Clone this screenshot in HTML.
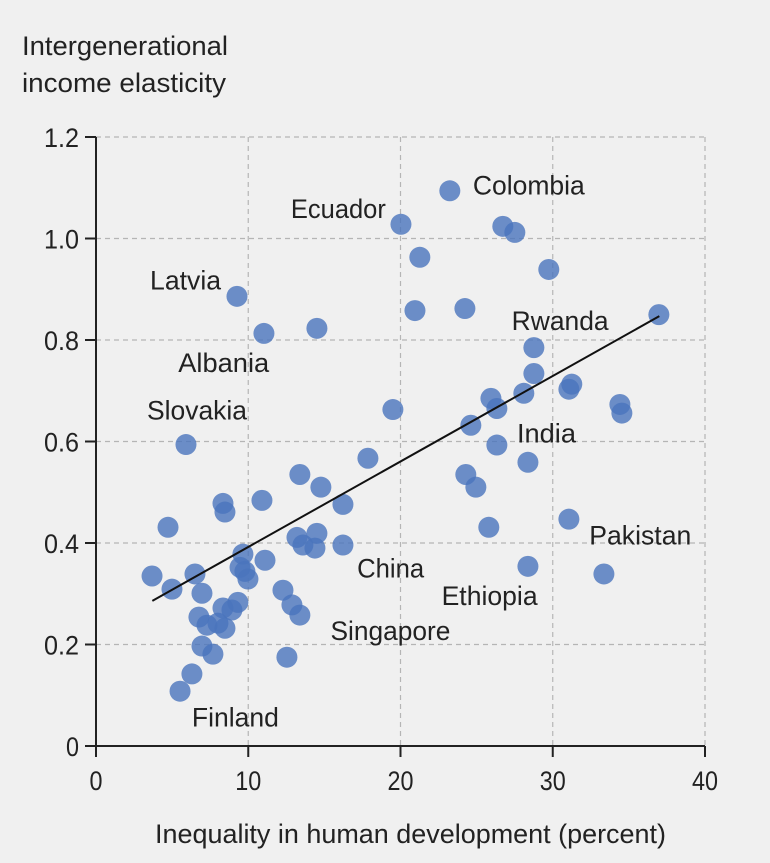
<!DOCTYPE html>
<html><head><meta charset="utf-8"><style>
html,body{margin:0;padding:0;background:#f0f0f0;}
svg{display:block;font-family:"Liberation Sans Narrow","Liberation Sans",sans-serif;}
</style></head><body>
<svg id="chart" width="770" height="863" viewBox="0 0 770 863">
<rect width="770" height="863" fill="#f0f0f0"/>
<text x="22" y="55" font-size="27" fill="#222" textLength="206" lengthAdjust="spacingAndGlyphs">Intergenerational</text>
<text x="22" y="92" font-size="27" fill="#222" textLength="204" lengthAdjust="spacingAndGlyphs">income elasticity</text>
<text x="155" y="843" font-size="27" fill="#222" textLength="511" lengthAdjust="spacingAndGlyphs">Inequality in human development (percent)</text>
<g id="grid"></g><g id="axes"></g><g id="points"></g><g id="fit"></g><g id="labels"></g>
</svg>
<script>
const xVals=[3.68,4.73,4.99,5.91,5.52,6.30,6.50,6.96,6.76,6.96,7.68,7.29,8.01,8.34,8.93,9.32,8.47,8.34,8.47,9.65,9.46,9.78,9.98,9.26,10.90,11.03,11.10,12.28,12.87,13.39,12.54,13.20,13.59,14.38,14.51,13.39,14.77,14.51,16.22,16.22,17.86,19.50,20.03,21.27,20.95,23.24,24.23,24.62,24.29,24.95,25.80,25.94,26.33,26.33,26.72,27.51,28.10,28.37,28.37,28.76,28.76,29.74,31.06,31.25,31.06,34.41,34.54,33.36,36.97];
const yVals=[0.335,0.431,0.309,0.594,0.108,0.142,0.339,0.301,0.254,0.197,0.181,0.238,0.242,0.272,0.268,0.283,0.232,0.478,0.461,0.378,0.352,0.344,0.329,0.886,0.484,0.813,0.366,0.307,0.278,0.258,0.175,0.411,0.396,0.390,0.419,0.535,0.510,0.823,0.476,0.396,0.567,0.663,1.028,0.963,0.858,1.094,0.862,0.632,0.535,0.510,0.431,0.685,0.665,0.593,1.024,1.012,0.695,0.559,0.354,0.734,0.785,0.939,0.703,0.713,0.447,0.673,0.656,0.339,0.850];
const fitX=[3.7,37];
const fitY=[0.286,0.847];
const xTicks=[0,10,20,30,40];
const yTicks=[0,0.2,0.4,0.6,0.8,1.0,1.2];
const yTickLabels=["0","0.2","0.4","0.6","0.8","1.0","1.2"];
const labelNames=["Colombia","Ecuador","Latvia","Rwanda","Albania","Slovakia","India","Pakistan","China","Ethiopia","Singapore","Finland"];
const labelX=[24.75,12.8,3.55,27.3,5.4,3.35,27.65,32.4,17.15,22.7,15.4,6.3];
const labelY=[1.087,1.04,0.9,0.82,0.737,0.643,0.598,0.397,0.332,0.278,0.209,0.038];
const labelWidths=[112,95,71,97,91,100,59,102,67,96,120,87];
const NS="http://www.w3.org/2000/svg";
const X=v=>96+v*15.225, Y=v=>746-v*507.5;
function mk(tag,parent,attrs){const e=document.createElementNS(NS,tag);for(const k in attrs)e.setAttribute(k,attrs[k]);document.getElementById(parent).appendChild(e);return e;}
yTicks.forEach((t,i)=>{
 if(t>0){const g=mk('line','grid',{x1:96,x2:705,y1:Y(t),y2:Y(t),stroke:'#b5b5b5','stroke-dasharray':'5,4','stroke-width':1.2});
 
 }
 const tk=mk('line','axes',{x1:85,x2:96,y1:Y(t),y2:Y(t),stroke:'#222','stroke-width':2});
 
 
 const lab=yTickLabels[i];
 const tl=mk('text','axes',{x:79,y:Y(t)+10,'text-anchor':'end','font-size':27,fill:'#222',textLength:lab.length>1?35:13,lengthAdjust:'spacingAndGlyphs'});
 tl.textContent=lab;
 
 
});
xTicks.forEach(t=>{
 if(t>0){const g=mk('line','grid',{x1:X(t),x2:X(t),y1:137,y2:746,stroke:'#b5b5b5','stroke-dasharray':'5,4','stroke-width':1.2});
 
 }
 const tk=mk('line','axes',{x1:X(t),x2:X(t),y1:746,y2:757,stroke:'#222','stroke-width':2});
 
 
 const s=String(t);
 const tl=mk('text','axes',{x:X(t),y:790,'text-anchor':'middle','font-size':27,fill:'#222',textLength:s.length>1?26:13,lengthAdjust:'spacingAndGlyphs'});
 tl.textContent=s;
 
 
});
const ya=mk('line','axes',{x1:96,x2:96,y1:137,y2:747,stroke:'#222','stroke-width':2});


const xa=mk('line','axes',{x1:95,x2:705,y1:746,y2:746,stroke:'#222','stroke-width':2});


xVals.forEach((v,i)=>{
 const c=mk('circle','points',{cx:X(v),cy:Y(yVals[i]),r:10.5,fill:'#4a74bd','fill-opacity':0.8});
 
 
});
const fl=mk('line','fit',{x1:X(fitX[0]),y1:Y(fitY[0]),x2:X(fitX[1]),y2:Y(fitY[1]),stroke:'#111','stroke-width':2});


labelNames.forEach((n,i)=>{
 const t=mk('text','labels',{x:X(labelX[i]),y:Y(labelY[i]),'font-size':27,fill:'#222',textLength:labelWidths[i],lengthAdjust:'spacingAndGlyphs'});
 t.textContent=n;
 
 
});
</script>
</body></html>
